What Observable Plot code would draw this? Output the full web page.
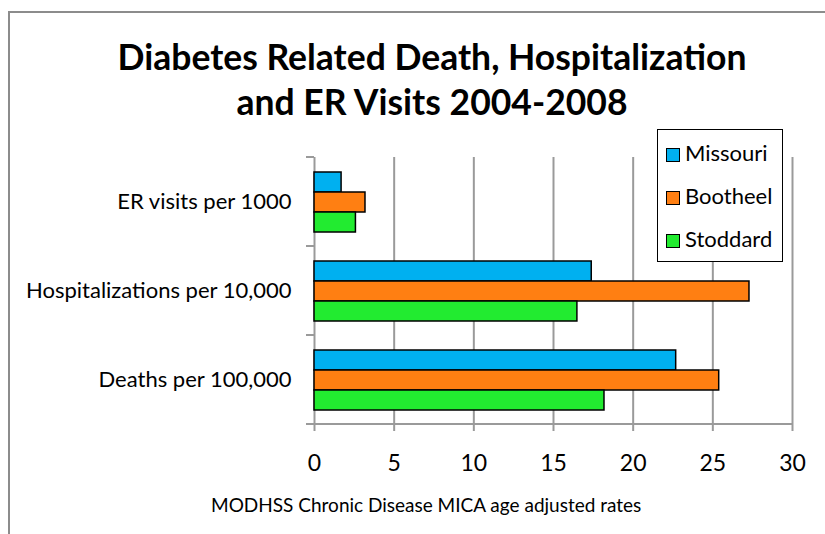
<!DOCTYPE html>
<html>
<head>
<meta charset="utf-8">
<script src="https://cdn.jsdelivr.net/npm/d3@7"></script>
<script src="https://cdn.jsdelivr.net/npm/@observablehq/plot@0.6"></script>
<style>
  html, body { margin: 0; padding: 0; background: #fff; }
  #wrap { position: relative; width: 825px; height: 534px; overflow: hidden; font-family: Lato, "Open Sans", sans-serif; color: #000; }
  #frame { position: absolute; left: 8px; top: 11px; width: 900px; height: 600px; border-left: 2px solid #8c8c8c; border-top: 2px solid #8c8c8c; }
  #chart { position: absolute; left: 0; top: 0; }
  #title { position: absolute; left: 0; width: 864px; top: 34px; text-align: center; font-weight: bold; font-size: 35.5px; line-height: 45px; }
  #legend { position: absolute; left: 657px; top: 129px; width: 126px; height: 133px; box-sizing: border-box; border: 1.5px solid #000; background: #fff; }
  .item { position: absolute; left: 8px; height: 24px; line-height: 24px; font-size: 22px; white-space: nowrap; }
  .sw { display: inline-block; width: 14px; height: 14px; box-sizing: border-box; border: 1.5px solid #000; vertical-align: -1px; margin-right: 5px; }
  #caption { position: absolute; left: 211px; top: 494px; font-size: 19px; line-height: 22px; white-space: nowrap; }
</style>
</head>
<body>
<div id="wrap">
  <div id="frame"></div>
  <div id="chart"></div>
  <div id="title">Diabetes Related Death, Hospitalization<br>and ER Visits 2004-2008</div>
  <div id="legend"></div>
  <div id="caption">MODHSS Chronic Disease MICA age adjusted rates</div>
</div>
<script>
const categories = ["ER visits per 1000", "Hospitalizations per 10,000", "Deaths per 100,000"];
const series = ["Missouri", "Bootheel", "Stoddard"];
const colors = ["#00B0F0", "#FF7F12", "#22EB30"];
const missouri = [1.7, 17.4, 22.7];
const bootheel = [3.2, 27.3, 25.4];
const stoddard = [2.6, 16.5, 18.2];
const xTicks = [0, 5, 10, 15, 20, 25, 30];

const valuesBySeries = [missouri, bootheel, stoddard];
const data = [];
categories.forEach((c, i) => {
  series.forEach((s, j) => data.push({category: c, series: s, value: valuesBySeries[j][i]}));
});

const plot = Plot.plot({
  width: 825,
  height: 534,
  marginLeft: 314,
  marginRight: 33,
  marginTop: 156,
  marginBottom: 110,
  style: {fontFamily: "Lato, 'Open Sans', sans-serif", background: "transparent", color: "#000"},
  x: {domain: [0, 30], axis: null, label: null},
  y: {domain: series, paddingInner: 0, paddingOuter: 0.725, axis: null},
  fy: {domain: categories, padding: 0, axis: null, label: null},
  color: {domain: series, range: colors},
  marks: [
    Plot.gridX(xTicks.filter(d => d > 0), {stroke: "#9a9a9a", strokeOpacity: 1, strokeWidth: 2}),
    Plot.ruleX([0], {stroke: "#9a9a9a", strokeWidth: 2}),
    Plot.barX(data, {fy: "category", y: "series", x: "value", fill: "series", stroke: "#000", strokeWidth: 1.5}),
    Plot.axisX(xTicks, {anchor: "bottom", label: null, tickSize: 7, tickPadding: 23, stroke: "#9a9a9a", strokeWidth: 2, fontSize: 23, fill: "#000"}),
    Plot.axisFy({anchor: "left", tickSize: 0, tickPadding: 23, fontSize: 22, label: null, fill: "#000"})
  ]
});
document.getElementById("chart").appendChild(plot);

// axis baseline and category boundary ticks, positioned with Plot's own scales
const xs = plot.scale("x"), fys = plot.scale("fy");
const svg = d3.select(plot);
const x0 = xs.apply(0), x30 = xs.apply(30);
const bounds = categories.map(c => fys.apply(c));
bounds.push(fys.apply(categories[categories.length - 1]) + fys.bandwidth);
const g = svg.append("g").attr("stroke", "#9a9a9a").attr("stroke-width", 2);
g.append("line").attr("x1", x0).attr("x2", x30).attr("y1", bounds[bounds.length - 1]).attr("y2", bounds[bounds.length - 1]);
bounds.forEach(b => g.append("line").attr("x1", x0 - 8).attr("x2", x0).attr("y1", b).attr("y2", b));

// legend
const legend = document.getElementById("legend");
const legendTops = [11, 54, 97];
series.forEach((s, i) => {
  const it = document.createElement("div");
  it.className = "item";
  it.style.top = legendTops[i] + "px";
  it.innerHTML = `<span class="sw" style="background:${colors[i]}"></span>${s}`;
  legend.appendChild(it);
});
</script>
</body>
</html>
